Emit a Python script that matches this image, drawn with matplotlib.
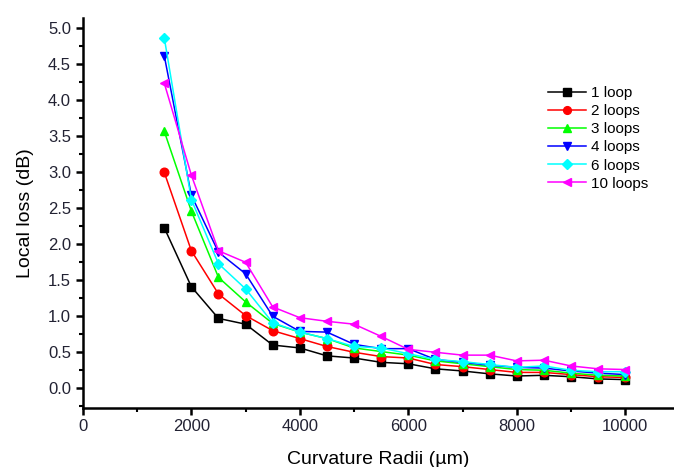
import matplotlib
matplotlib.use('Agg')
from matplotlib import pyplot as plt
from matplotlib.ticker import MultipleLocator

plt.rcParams['font.family'] = ['Liberation Sans', 'DejaVu Sans']

# bend radius [um] and local loss [dB] per number of loops
radii = [1500, 2000, 2500, 3000, 3500, 4000, 4500, 5000, 5500,
         6000, 6500, 7000, 7500, 8000, 8500, 9000, 9500, 10000]
loop1 = [2.23, 1.41, 0.97, 0.89, 0.60, 0.56, 0.45, 0.42, 0.36,
         0.34, 0.27, 0.24, 0.20, 0.17, 0.18, 0.16, 0.13, 0.12]
loop2 = [3.00, 1.91, 1.31, 1.01, 0.80, 0.69, 0.58, 0.50, 0.44,
         0.42, 0.33, 0.30, 0.26, 0.22, 0.22, 0.19, 0.16, 0.15]
loop3 = [3.57, 2.46, 1.54, 1.20, 0.90, 0.78, 0.69, 0.56, 0.51,
         0.46, 0.38, 0.34, 0.30, 0.26, 0.25, 0.21, 0.18, 0.17]
loop4 = [4.62, 2.68, 1.89, 1.59, 1.00, 0.79, 0.78, 0.61, 0.55,
         0.55, 0.40, 0.36, 0.32, 0.29, 0.28, 0.24, 0.21, 0.19]
loop6 = [4.87, 2.62, 1.73, 1.38, 0.91, 0.78, 0.69, 0.58, 0.56,
         0.48, 0.40, 0.37, 0.33, 0.29, 0.31, 0.25, 0.23, 0.23]
loop10 = [4.24, 2.96, 1.91, 1.75, 1.13, 0.98, 0.93, 0.89, 0.72,
          0.54, 0.50, 0.46, 0.46, 0.38, 0.39, 0.31, 0.27, 0.26]

series = [(loop1, '1 loop', 'k', 's'),
          (loop2, '2 loops', 'r', 'o'),
          (loop3, '3 loops', '#00ff00', '^'),
          (loop4, '4 loops', 'b', 'v'),
          (loop6, '6 loops', 'cyan', 'D'),
          (loop10, '10 loops', 'magenta', '<')]

fig = plt.figure(figsize=(6.74, 4.67), dpi=100)
ax = fig.add_axes([0.123, 0.127, 0.877, 0.834])

for yv, lab, col, mk in series:
    ms = 5.5 if mk == 'D' else 6.2
    ax.plot(radii, yv, '-', color=col, marker=mk, markersize=ms,
            linewidth=1.1, label=lab)

ax.set_xlim(0, 10900)
ax.set_ylim(-0.27, 5.14)
ax.xaxis.set_major_locator(MultipleLocator(2000))
ax.xaxis.set_minor_locator(MultipleLocator(1000))
ax.yaxis.set_major_locator(MultipleLocator(0.5))
ax.yaxis.set_minor_locator(MultipleLocator(0.25))
ax.yaxis.set_major_formatter(matplotlib.ticker.FormatStrFormatter('%.1f'))

ax.spines['top'].set_visible(False)
ax.spines['right'].set_visible(False)
ax.spines['left'].set_linewidth(1.8)
ax.spines['bottom'].set_linewidth(1.8)
ax.tick_params(which='major', direction='out', length=5, width=1.8,
               labelsize=12, labelcolor='#222233')
ax.tick_params(which='minor', direction='out', length=3, width=1.5)

ax.set_xlabel('Curvature Radii (µm)', fontsize=14, labelpad=12)
ax.set_ylabel('Local loss (dB)', fontsize=14, labelpad=10)

ax.legend(loc='upper left', bbox_to_anchor=(542 / 674, 1 - 80 / 467),
          bbox_transform=fig.transFigure, frameon=False, fontsize=11,
          handlelength=2.5, labelspacing=0.27, handletextpad=0.3,
          borderaxespad=0, markerscale=0.9)

fig.savefig('out.png', dpi=100)
